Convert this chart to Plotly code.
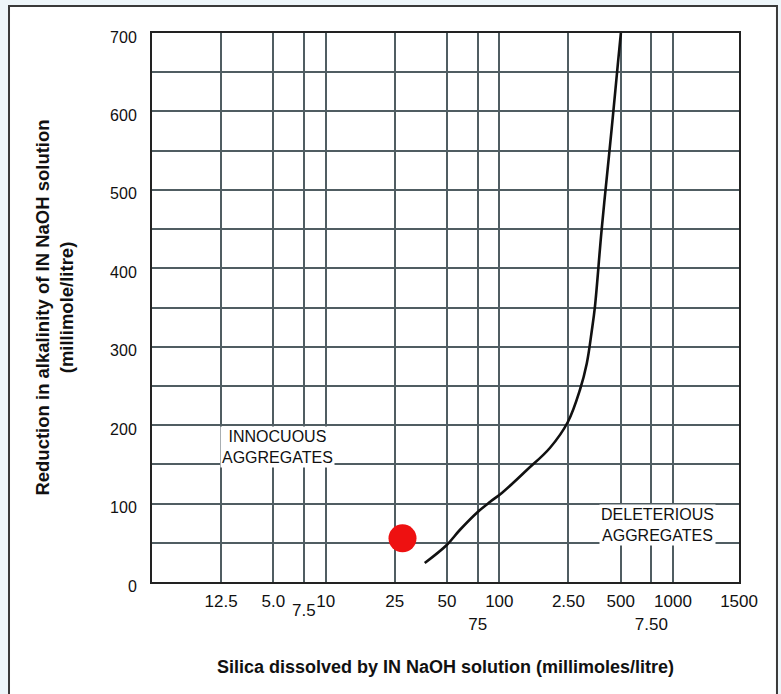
import math
import plotly.graph_objects as go

# ---- data ----
curve_silica = [37.2, 49.8, 59.2, 75.1, 88.2, 103.4, 144, 195.4, 248, 291, 319, 341, 355, 388, 430, 453, 482, 501]
curve_reduction = [24.2, 47.2, 66.3, 89.3, 102, 113.5, 142.8, 170.9, 204, 244.8, 279, 321, 350.6, 448.8, 548, 599, 662, 700]

sample_silica = [27.7]
sample_reduction = [55.7]

x_tick_vals = [2.5, 5, 10, 25, 50, 75, 100, 250, 500, 750, 1000, 2400]
x_tick_text = ["12.5", "5.0", "10", "25", "50", "<br>75", "100", "2.50", "500", "<br>7.50", "1000", "1500"]
x_low_tick_vals = [7.5]
x_low_tick_text = ["7.5"]
y_tick_vals = [0, 100, 200, 300, 400, 500, 600, 700]
y_tick_text = ["0", "100", "200", "300", "400", "500", "600", "700"]

innocuous_pos = (5.29, 172)
deleterious_pos = (809, 72.7)

FONT = "Arial, Liberation Sans, sans-serif"
GRID = "#505d62"

fig = go.Figure()
fig.add_trace(go.Scatter(
    x=curve_silica, y=curve_reduction, mode="lines",
    line=dict(color="#111111", width=2.6, shape="spline", smoothing=1.0),
    showlegend=False, hoverinfo="skip"))
fig.add_trace(go.Scatter(
    x=sample_silica, y=sample_reduction, mode="markers",
    marker=dict(color="#ee1111", size=28, line=dict(width=0)),
    showlegend=False))

# annotations on a log axis take log10 positions
fig.add_annotation(x=math.log10(innocuous_pos[0]), y=innocuous_pos[1], xref="x", yref="y",
                   text="INNOCUOUS<br>AGGREGATES", showarrow=False,
                   font=dict(family=FONT, size=16, color="#111111"),
                   bgcolor="white", borderpad=1)
fig.add_annotation(x=math.log10(deleterious_pos[0]), y=deleterious_pos[1], xref="x", yref="y",
                   text="DELETERIOUS<br>AGGREGATES", showarrow=False,
                   font=dict(family=FONT, size=16, color="#111111"),
                   bgcolor="white", borderpad=1)

# half-lowered tick label(s)
for v, t in zip(x_low_tick_vals, x_low_tick_text):
    fig.add_annotation(x=math.log10(v), y=0, xref="x", yref="paper",
                       yanchor="top", yshift=-17, text=t, showarrow=False,
                       font=dict(family=FONT, size=17, color="#111111"))

# white panel with dark border on light-blue page
fig.add_shape(type="rect", xref="paper", yref="paper",
              x0=-0.2436, x1=1.0647, y0=-0.23, y1=1.0492,
              fillcolor="white", line=dict(color="#3a3a3a", width=2), layer="below")

fig.update_xaxes(
    type="log", range=[0, 3.38], automargin=False,
    tickmode="array", tickvals=x_tick_vals, ticktext=x_tick_text, tickangle=0,
    showgrid=True, gridcolor=GRID, gridwidth=1.6,
    minor=dict(tickvals=x_low_tick_vals, showgrid=True, gridcolor=GRID, gridwidth=1.6, ticks=""),
    showline=True, linecolor="#222222", linewidth=2, mirror=True,
    ticks="", ticklabelstandoff=3,
    tickfont=dict(family=FONT, size=17, color="#111111"),
    title=dict(text="<b>Silica dissolved by IN NaOH solution (millimoles/litre)</b>",
               font=dict(family=FONT, size=18, color="#111111"), standoff=28),
    zeroline=False)
fig.update_yaxes(
    range=[0, 700], automargin=False,
    tickmode="array", tickvals=y_tick_vals, ticktext=y_tick_text,
    showgrid=True, gridcolor=GRID, gridwidth=1.6,
    minor=dict(dtick=50, showgrid=True, gridcolor=GRID, gridwidth=1.6),
    showline=True, linecolor="#222222", linewidth=2, mirror=True,
    ticks="", ticklabelstandoff=10, ticklabelshift=4,
    tickfont=dict(family=FONT, size=16, color="#111111"),
    title=dict(text="<b>Reduction in alkalinity of IN NaOH solution<br>(millimole/litre)</b>",
               font=dict(family=FONT, size=18.5, color="#111111"), standoff=32),
    zeroline=False)

fig.update_layout(
    width=781, height=694,
    margin=dict(l=152, r=42, t=33, b=112),
    paper_bgcolor="#eef6fa", plot_bgcolor="white",
    showlegend=False)

fig.write_html("out.html",
               config={"displayModeBar": False},
               post_script="document.body.style.margin='0px';"
                           "document.body.style.background='#eef6fa';")
